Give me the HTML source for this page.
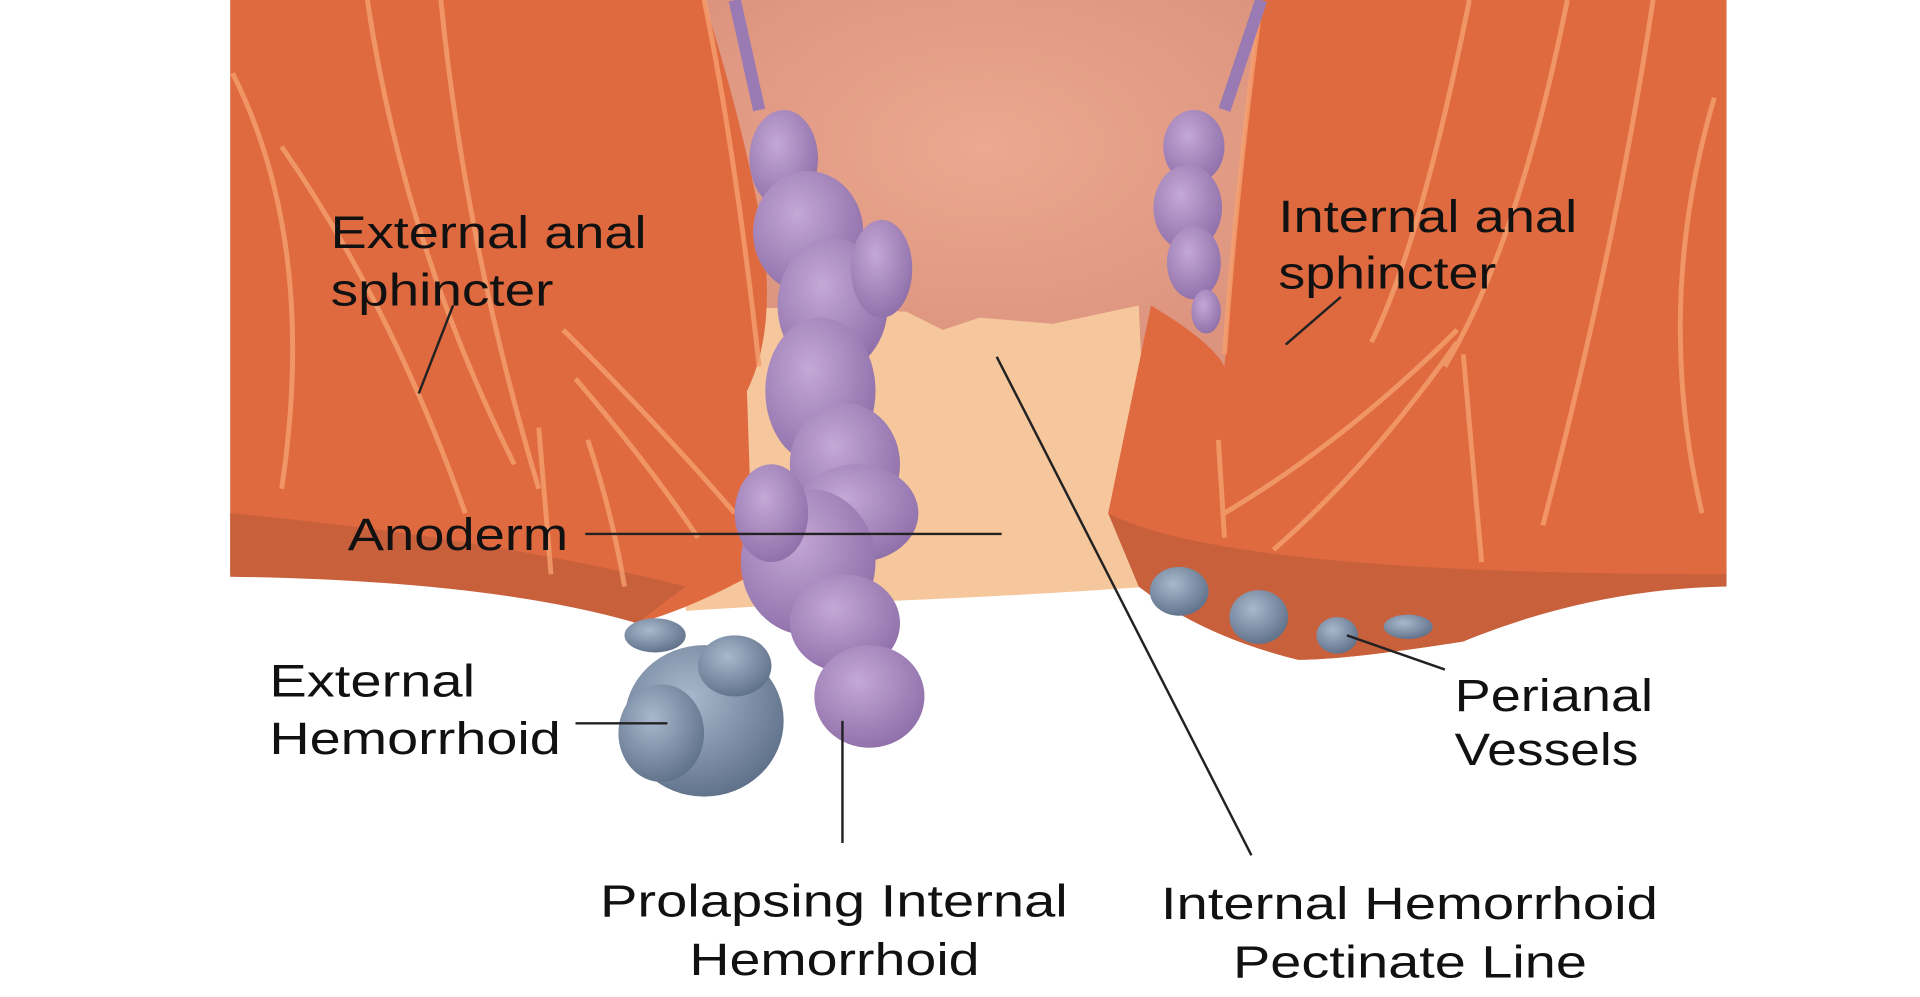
<!DOCTYPE html>
<html><head><meta charset="utf-8"><style>
html,body{margin:0;padding:0;background:#fff;}
svg{display:block;}
text{font-family:"Liberation Sans",sans-serif;font-size:37px;fill:#111;}
</style></head><body>
<svg width="1920" height="997" viewBox="0 0 1568 816" preserveAspectRatio="none" xmlns="http://www.w3.org/2000/svg">
<defs>
<radialGradient id="pur" cx="40%" cy="35%" r="70%"><stop offset="0" stop-color="#c4a8d6"/><stop offset="1" stop-color="#8e6ea8"/></radialGradient>
<radialGradient id="blu" cx="40%" cy="35%" r="70%"><stop offset="0" stop-color="#a9b8cc"/><stop offset="1" stop-color="#5d6f88"/></radialGradient>
<radialGradient id="pink" cx="50%" cy="40%" r="60%"><stop offset="0" stop-color="#eca890"/><stop offset="1" stop-color="#dc947e"/></radialGradient>
</defs>
<rect width="1568" height="816" fill="#fff"/>
<rect x="560" y="0" width="490" height="300" fill="url(#pink)"/>
<path d="M560 250 L740 255 L770 270 L800 260 L860 265 L930 250 L940 480 Q800 490 640 495 L560 500 Z" fill="#f6c79c"/>
<path d="M188 0 L575 0 Q600 80 615 150 Q640 260 610 320 L615 470 Q560 500 520 510 Q400 470 188 470 Z" fill="#e06a40"/>
<path d="M188 420 Q400 440 560 480 L520 510 Q400 475 188 472 Z" fill="#c8603c"/>
<g stroke="#f5a070" stroke-width="4" fill="none" opacity="0.8">
<path d="M300 0 Q330 200 420 380"/><path d="M360 0 Q380 200 440 400"/><path d="M230 120 Q320 250 380 420"/>
<path d="M460 270 Q540 350 600 420"/><path d="M470 310 Q530 380 570 440"/><path d="M440 350 L450 470"/><path d="M480 360 Q500 420 510 480"/>
<path d="M190 60 Q260 200 230 400"/><path d="M575 0 Q600 120 620 300"/>
</g>
<path d="M1030 0 L1410 0 L1410 475 Q1300 480 1195 525 Q1100 540 1060 540 Q980 520 930 480 L905 420 L940 250 Q990 280 1000 300 Q1010 150 1030 0 Z" fill="#e06a40"/>
<path d="M905 420 Q1000 470 1410 470 L1410 480 Q1300 482 1195 525 Q1100 540 1060 540 Q980 520 930 480 Z" fill="#c8603c"/>
<g stroke="#f5a070" stroke-width="4" fill="none" opacity="0.8">
<path d="M1200 0 Q1160 200 1120 280"/><path d="M1280 0 Q1240 200 1180 300"/><path d="M1350 0 Q1320 200 1260 430"/>
<path d="M1190 270 Q1100 360 1000 420"/><path d="M1190 280 Q1120 380 1040 450"/><path d="M995 360 L1000 440"/><path d="M1195 290 L1210 460"/>
<path d="M1400 80 Q1350 250 1390 420"/><path d="M1030 0 Q1010 150 1000 290"/>
</g>
<g fill="url(#pur)">
<ellipse cx="640" cy="130" rx="28" ry="40"/><ellipse cx="660" cy="190" rx="45" ry="50"/><ellipse cx="680" cy="250" rx="45" ry="55"/>
<ellipse cx="670" cy="320" rx="45" ry="60"/><ellipse cx="690" cy="380" rx="45" ry="50"/><ellipse cx="700" cy="420" rx="50" ry="40"/>
<ellipse cx="660" cy="460" rx="55" ry="60"/><ellipse cx="690" cy="510" rx="45" ry="40"/><ellipse cx="710" cy="570" rx="45" ry="42"/>
<ellipse cx="720" cy="220" rx="25" ry="40"/><ellipse cx="630" cy="420" rx="30" ry="40"/>
<ellipse cx="975" cy="120" rx="25" ry="30"/><ellipse cx="970" cy="170" rx="28" ry="35"/><ellipse cx="975" cy="215" rx="22" ry="30"/><ellipse cx="985" cy="255" rx="12" ry="18"/>
</g>
<path d="M600 0 L620 90" stroke="#9a7ab3" stroke-width="10"/><path d="M1030 0 L1000 90" stroke="#9a7ab3" stroke-width="10"/>
<g fill="url(#blu)">
<ellipse cx="575" cy="590" rx="65" ry="62"/><ellipse cx="600" cy="545" rx="30" ry="25"/><ellipse cx="535" cy="520" rx="25" ry="14"/><ellipse cx="540" cy="600" rx="35" ry="40"/>
</g>
<g fill="url(#blu)">
<ellipse cx="963" cy="484" rx="24" ry="20"/><ellipse cx="1028" cy="505" rx="24" ry="22"/><ellipse cx="1092" cy="520" rx="17" ry="15"/><ellipse cx="1150" cy="513" rx="20" ry="10"/>
</g>
<g stroke="#222" stroke-width="2">
<line x1="370" y1="250" x2="342" y2="322"/><line x1="1095" y1="243" x2="1050" y2="282"/>
<line x1="478" y1="437" x2="818" y2="437"/><line x1="470" y1="592" x2="545" y2="592"/>
<line x1="688" y1="590" x2="688" y2="690"/><line x1="814" y1="292" x2="1022" y2="700"/>
<line x1="1100" y1="520" x2="1180" y2="548"/>
</g>
<g lengthAdjust="spacingAndGlyphs">
<text x="270" y="203" textLength="258" lengthAdjust="spacingAndGlyphs">External anal</text>
<text x="270" y="250" textLength="182" lengthAdjust="spacingAndGlyphs">sphincter</text>
<text x="1044" y="190" textLength="244" lengthAdjust="spacingAndGlyphs">Internal anal</text>
<text x="1044" y="236" textLength="178" lengthAdjust="spacingAndGlyphs">sphincter</text>
<text x="284" y="450" textLength="180" lengthAdjust="spacingAndGlyphs">Anoderm</text>
<text x="220" y="570" textLength="168" lengthAdjust="spacingAndGlyphs">External</text>
<text x="220" y="617" textLength="238" lengthAdjust="spacingAndGlyphs">Hemorrhoid</text>
<text x="1188" y="582" textLength="162" lengthAdjust="spacingAndGlyphs">Perianal</text>
<text x="1188" y="626" textLength="150" lengthAdjust="spacingAndGlyphs">Vessels</text>
<text x="490" y="750" textLength="382" lengthAdjust="spacingAndGlyphs">Prolapsing Internal</text>
<text x="563" y="798" textLength="237" lengthAdjust="spacingAndGlyphs">Hemorrhoid</text>
<text x="948" y="752" textLength="406" lengthAdjust="spacingAndGlyphs">Internal Hemorrhoid</text>
<text x="1007" y="800" textLength="289" lengthAdjust="spacingAndGlyphs">Pectinate Line</text>
</g>
</svg>
</body></html>
